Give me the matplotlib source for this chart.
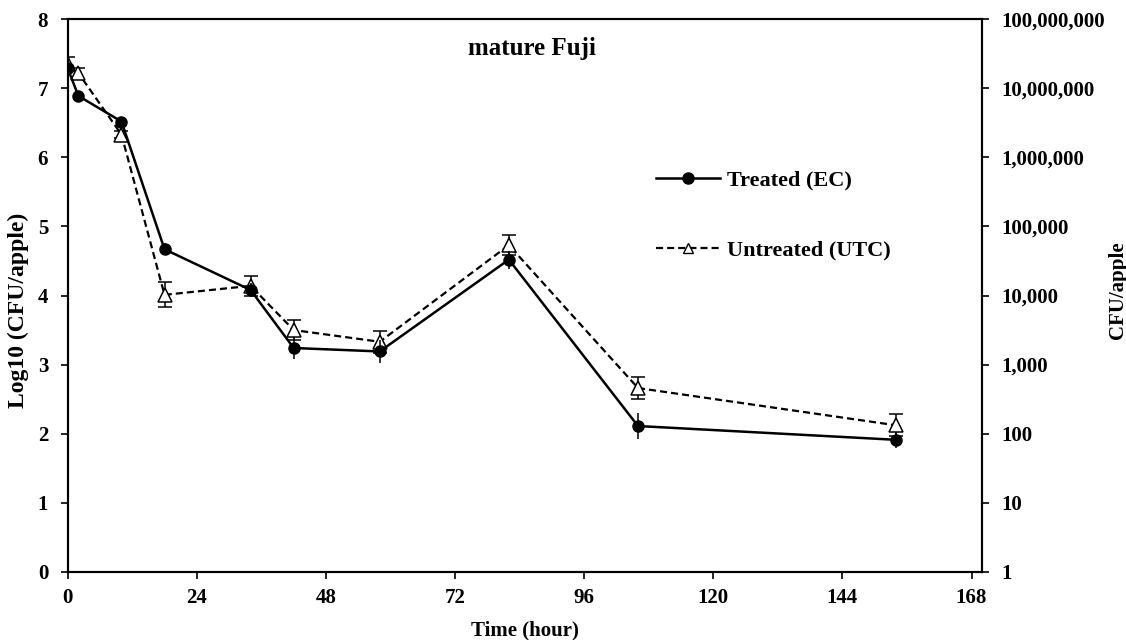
import matplotlib
matplotlib.use("Agg")
import matplotlib.pyplot as plt
from matplotlib.lines import Line2D
from matplotlib.ticker import FixedLocator, FuncFormatter, NullLocator

# ---- data ----
time_h = [0, 2, 10, 18, 34, 42, 58, 82, 106, 154]
treated = [7.29, 6.89, 6.52, 4.67, 4.08, 3.24, 3.19, 4.52, 2.11, 1.91]
treated_err = [0.05, 0.05, 0.05, 0.09, 0.10, 0.16, 0.17, 0.13, 0.19, 0.12]
untreated = [7.36, 7.22, 6.33, 4.01, 4.14, 3.50, 3.33, 4.73, 2.66, 2.12]
untreated_err = [0.10, 0.08, 0.05, 0.18, 0.14, 0.15, 0.16, 0.14, 0.16, 0.16]

x_ticks = [0, 24, 48, 72, 96, 120, 144, 168]
left_ticks = [0, 1, 2, 3, 4, 5, 6, 7, 8]
right_ticks = [1, 10, 100, 1000, 10000, 100000, 1000000, 10000000, 100000000]

title = "mature Fuji"
label_treated = "Treated (EC)"
label_untreated = "Untreated (UTC)"

plt.rcParams['font.family'] = ['Liberation Serif', 'DejaVu Serif']
plt.rcParams['font.weight'] = 'bold'
FS = 15

W, H = 1126, 640
fig = plt.figure(figsize=(W / 100, H / 100), dpi=100)
ax = fig.add_axes([0.0601, 0.1067, 0.8123, 0.8631])

ax.errorbar(time_h, untreated, yerr=untreated_err, color='black', lw=1.6,
            ls=(0, (3.2, 1.8)), marker='^', ms=10, mfc='white', mec='black', mew=1.1,
            ecolor='black', elinewidth=1.1, capsize=5, capthick=1.1, zorder=3)
ax.errorbar(time_h, treated, yerr=treated_err, color='black', lw=1.8,
            ls='-', marker='o', ms=8, mfc='black', mec='black',
            ecolor='black', elinewidth=1.1, capsize=0, zorder=4)

ax.set_xlim(0, 170)
ax.set_ylim(0, 8)
ax.set_xticks(x_ticks)
ax.set_yticks(left_ticks)
for s in ax.spines.values():
    s.set_linewidth(1.5)
ax.tick_params(axis='both', direction='out', length=5, width=1.2, labelsize=FS)
ax.tick_params(axis='x', pad=7)
ax.tick_params(axis='y', pad=9)
for lab in ax.get_xticklabels() + ax.get_yticklabels():
    lab.set_fontweight('bold')

fig.text(525 / W, 1 - 630 / H, "Time (hour)", ha='center', va='center',
         fontsize=FS, fontweight='bold')
fig.text(18 / W, 1 - 310 / H, "Log10 (CFU/apple)", ha='center', va='center',
         rotation=90, fontsize=17, fontweight='bold')
fig.text(1118 / W, 1 - 290 / H, "CFU/apple", ha='center', va='center',
         rotation=90, fontsize=15, fontweight='bold')
fig.text(532 / W, 1 - 48 / H, title, ha='center', va='center',
         fontsize=18, fontweight='bold')

# right log axis
ax2 = ax.twinx()
ax2.set_yscale('log')
ax2.set_ylim(1, 1e8)
ax2.yaxis.set_major_locator(FixedLocator(right_ticks))
ax2.yaxis.set_minor_locator(NullLocator())
ax2.yaxis.set_major_formatter(FuncFormatter(lambda v, p: f"{int(round(v)):,}"))
ax2.tick_params(axis='y', direction='out', length=5, width=1.2, labelsize=FS, pad=9)
for lab in ax2.get_yticklabels():
    lab.set_fontweight('bold')
for s in ax2.spines.values():
    s.set_linewidth(1.5)

handles = [
    Line2D([], [], color='black', lw=1.8, ls='-', marker='o', ms=8, mfc='black'),
    Line2D([], [], color='black', lw=1.6, ls=(0, (3.2, 1.8)), marker='^', ms=7,
           mfc='white', mec='black', mew=1.0),
]
LFS = 16
ax.legend(handles, [label_treated, label_untreated], loc='center left',
          bbox_to_anchor=(0.621, 0.645), frameon=False,
          handlelength=2.9, labelspacing=2.2, handletextpad=0.3,
          prop={'weight': 'bold', 'size': LFS})

fig.savefig("out.png", dpi=100)
